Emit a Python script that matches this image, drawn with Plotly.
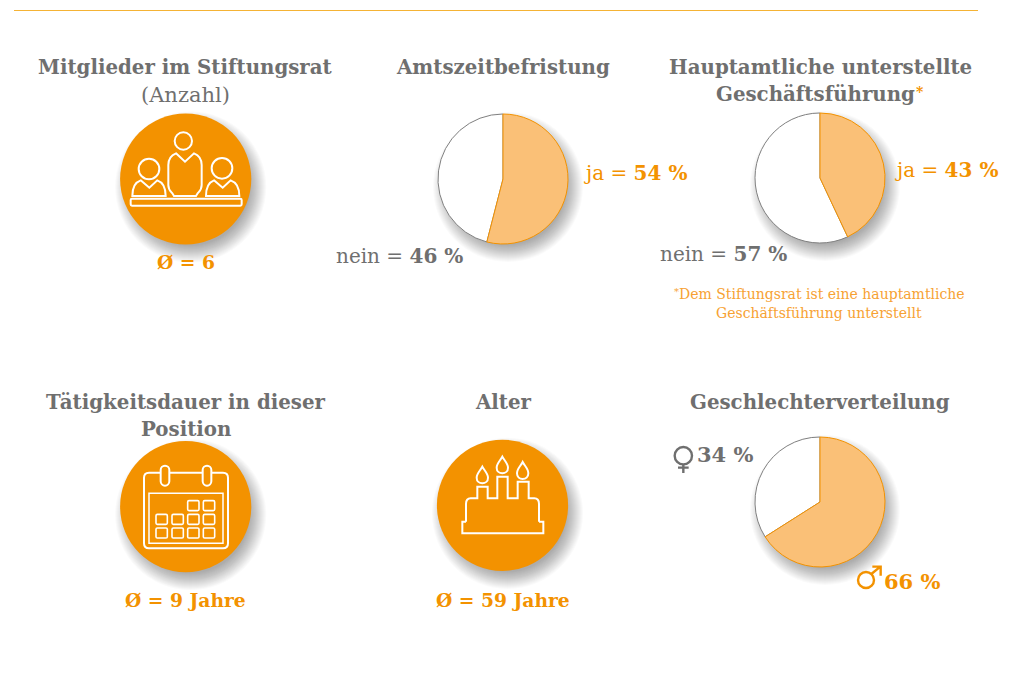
import plotly.graph_objects as go

# ---- data ----
pie_titles = ["Amtszeitbefristung", "Hauptamtliche unterstellte", "Geschlechterverteilung"]
pie_labels_other = ["nein", "nein", "weiblich"]
pie_labels_main = ["ja", "ja", "männlich"]
pie_other = [46, 57, 34]
pie_main = [54, 43, 66]
avg_people = 6
avg_years = 9
avg_age = 59

ORANGE = "#F39200"
LIGHT = "#FAC077"
GRAY = "#6F6F6F"
LINEGRAY = "#808080"
FONT = "DejaVu Serif"

W, H = 1009, 679
fig = go.Figure()

# pies: box centres/radius in px
pie_boxes = [(503, 179, 65), (820, 178, 65), (820, 502, 65)]
for i, (cx, cy, r) in enumerate(pie_boxes):
    fig.add_trace(go.Pie(
        values=[pie_other[i], pie_main[i]],
        labels=[pie_labels_other[i], pie_labels_main[i]],
        sort=False, direction="clockwise",
        rotation=-pie_other[i] * 360 / (pie_other[i] + pie_main[i]),
        textinfo="none", hoverinfo="label+percent", showlegend=False,
        marker=dict(colors=["#FFFFFF", LIGHT],
                    line=dict(color=[LINEGRAY, ORANGE], width=1)),
        domain=dict(x=[(cx - r) / W, (cx + r) / W],
                    y=[1 - (cy + r) / H, 1 - (cy - r) / H]),
    ))

# invisible trace to enable the px-based cartesian axes
fig.add_trace(go.Scatter(x=[0, W], y=[0, H], mode="markers",
                         marker=dict(opacity=0), hoverinfo="skip", showlegend=False))

shapes = []

def circle(cx, cy, r, **kw):
    shapes.append(dict(type="circle", xref="x", yref="y", x0=cx - r, x1=cx + r,
                       y0=cy - r, y1=cy + r, **kw))

def shadow(cx, cy, r):
    n = 18
    for k in range(n):
        rr = r + 10 - k * 1.0
        circle(cx + 5, cy + 8, rr, fillcolor="rgba(0,0,0,0.019)",
               line=dict(width=0), layer="below")

def path(d, ox, oy, color="white", width=2.0, fill=None):
    """d: list of tokens in 3x zoom coordinates relative to (ox, oy)."""
    out, is_x = [], True
    for t in d.split():
        if t.isalpha():
            out.append(t)
            is_x = True
        else:
            v = float(t) / 3 + (ox if is_x else oy)
            out.append(f"{v:.2f}")
            is_x = not is_x
    s = dict(type="path", xref="x", yref="y", path=" ".join(out),
             line=dict(color=color, width=width), layer="above")
    s["fillcolor"] = fill if fill else "rgba(0,0,0,0)"
    shapes.append(s)

def zcircle(x, y, r, ox, oy, color="white", width=2.0):
    circle(ox + x / 3, oy + y / 3, r / 3, line=dict(color=color, width=width),
           fillcolor="rgba(0,0,0,0)", layer="above")

def rrect(x0, y0, x1, y1, r, ox, oy, **kw):
    k = r * 0.45
    d = (f"M {x0+r} {y0} L {x1-r} {y0} C {x1-k} {y0} {x1} {y0+k} {x1} {y0+r} "
         f"L {x1} {y1-r} C {x1} {y1-k} {x1-k} {y1} {x1-r} {y1} "
         f"L {x0+r} {y1} C {x0+k} {y1} {x0} {y1-k} {x0} {y1-r} "
         f"L {x0} {y0+r} C {x0} {y0+k} {x0+k} {y0} {x0+r} {y0} Z")
    path(d, ox, oy, **kw)

# top rule
shapes.append(dict(type="line", xref="x", yref="y", x0=14, x1=978, y0=10.5, y1=10.5,
                   line=dict(color="#F5B335", width=1), layer="above"))

# shadows
for cx, cy, r in pie_boxes:
    shadow(cx, cy, r)
discs = [(185.7, 179, 65.6), (185.7, 506.7, 65.6), (502.5, 505.3, 65.6)]
for cx, cy, r in discs:
    shadow(cx, cy, r)
for cx, cy, r in discs:
    circle(cx, cy, r, fillcolor=ORANGE, line=dict(width=0), layer="below")

# people icon
ox, oy = 100, 110
zcircle(250, 93, 26, ox, oy)
zcircle(147, 177, 31, ox, oy)
zcircle(366, 175, 31, ox, oy)
path("M 228 130 L 255 155 L 282 130 C 295 135 305 145 305 165 L 305 225 C 305 240 297 245 293 250 "
     "L 288 258 L 222 258 L 217 250 C 213 245 205 240 205 225 L 205 165 C 205 145 215 135 228 130 Z", ox, oy)
path("M 122 211 L 148 233 L 172 211 C 187 216 197 232 197 258 L 97 258 C 97 232 107 216 122 211 Z", ox, oy)
path("M 342 211 L 368 233 L 392 211 C 407 216 418 232 418 258 L 318 258 C 318 232 328 216 342 211 Z", ox, oy)
rrect(92, 266, 425, 287, 4, ox, oy)

# calendar icon
ox, oy = 100, 430
path("M 182 128 L 147 128 C 138 128 132 134 132 143 L 132 340 C 132 349 138 355 147 355 "
     "L 369 355 C 378 355 384 349 384 340 L 384 143 C 384 134 378 128 369 128 L 334 128", ox, oy)
path("M 208 128 L 308 128", ox, oy)
rrect(182, 107, 208, 167, 13, ox, oy)
rrect(308, 107, 334, 167, 13, ox, oy)
path("M 147 190 L 369 190 L 369 340 L 147 340 Z", ox, oy, width=1.5)
for x0, y0 in [(263, 212), (310, 212), (168, 253), (216, 253), (263, 253), (310, 253),
               (168, 294), (216, 294), (263, 294), (310, 294)]:
    rrect(x0, y0, x0 + 34, y0 + 30, 4, ox, oy, width=1.6)

# cake icon
ox, oy = 420, 430
path("M 138 275 L 138 222 C 138 212 142 205 152 205 L 172 205 L 172 170 L 203 170 L 203 205 L 232 205 "
     "L 232 140 L 263 140 L 263 205 L 293 205 L 293 155 L 326 155 L 326 205 L 343 205 "
     "C 353 205 357 212 357 222 L 357 275", ox, oy)
path("M 138 275 L 127 275 L 127 310 L 370 310 L 370 275 L 357 275", ox, oy)
for x, top, bot in [(187, 110, 160), (247, 80, 130), (308, 96, 147)]:
    w = 17
    path(f"M {x} {top} C {x+6} {top+12} {x+w} {top+20} {x+w} {bot-17} "
         f"C {x+w} {bot-6} {x+9} {bot} {x} {bot} "
         f"C {x-9} {bot} {x-w} {bot-6} {x-w} {bot-17} "
         f"C {x-w} {top+20} {x-6} {top+12} {x} {top} Z", ox, oy)

# gender symbols
ox, oy = 660, 425
zcircle(70, 92, 26, ox, oy, color=GRAY, width=2.4)
path("M 70 120 L 70 144 M 54 128 L 86 128", ox, oy, color=GRAY, width=2.4)
zcircle(618, 465, 24, ox, oy, color=ORANGE, width=2.4)
path("M 634 447 L 661 425 M 637 425 L 662 425 L 662 452", ox, oy, color=ORANGE, width=2.4)

# text
anns = []

def text(x, y, s, size=18, color=GRAY, anchor="center"):
    anns.append(dict(x=x, y=y, xref="x", yref="y", text=s, showarrow=False,
                     xanchor=anchor, yanchor="middle", align="center",
                     font=dict(family=FONT, size=size, color=color)))

TS = 19.8
text(185.5, 67, "<b>Mitglieder im Stiftungsrat</b>", TS)
text(185.5, 95, "(Anzahl)", 21)
text(503, 67, f"<b>{pie_titles[0]}</b>", TS)
text(820, 67, f"<b>{pie_titles[1]}</b>", TS)
text(815, 94, "<b>Geschäftsführung</b>", TS)
text(920, 92, "<b>*</b>", 14, ORANGE)
text(185.5, 402, "<b>Tätigkeitsdauer in dieser</b>", TS)
text(185.5, 429, "<b>Position</b>", TS)
text(503, 402, "<b>Alter</b>", TS)
text(820, 402, f"<b>{pie_titles[2]}</b>", TS)

AS = 18.7
VS = 20
text(186, 262, f"<b>Ø = {avg_people}</b>", AS, ORANGE)
text(185.5, 600, f"<b>Ø = {avg_years} Jahre</b>", AS, ORANGE)
text(502.5, 600, f"<b>Ø = {avg_age} Jahre</b>", AS, ORANGE)

text(582, 173, f"ja = <b>{pie_main[0]} %</b>", VS, ORANGE, "left")
text(334, 256, f"nein = <b>{pie_other[0]} %</b>", VS, GRAY, "left")
text(893, 170, f"ja = <b>{pie_main[1]} %</b>", VS, ORANGE, "left")
text(658, 254, f"nein = <b>{pie_other[1]} %</b>", VS, GRAY, "left")
text(695, 454, f"<b>{pie_other[2]} %</b>", 21, GRAY, "left")
text(882, 581, f"<b>{pie_main[2]} %</b>", 21, ORANGE, "left")

text(676, 291, "*", 10, "#F7A233")
text(821.5, 294, "Dem Stiftungsrat ist eine hauptamtliche", 14, "#F7A233")
text(819, 313, "Geschäftsführung unterstellt", 14, "#F7A233")

fig.update_layout(
    width=W, height=H, margin=dict(l=0, r=0, t=0, b=0),
    paper_bgcolor="white", plot_bgcolor="rgba(0,0,0,0)", showlegend=False,
    xaxis=dict(range=[0, W], visible=False, fixedrange=True, domain=[0, 1]),
    yaxis=dict(range=[H, 0], visible=False, fixedrange=True, domain=[0, 1]),
    shapes=shapes, annotations=anns,
)
fig.write_html("out.html", config={"displayModeBar": False},
               post_script="document.body.style.margin='0';document.documentElement.style.overflow='hidden';")
